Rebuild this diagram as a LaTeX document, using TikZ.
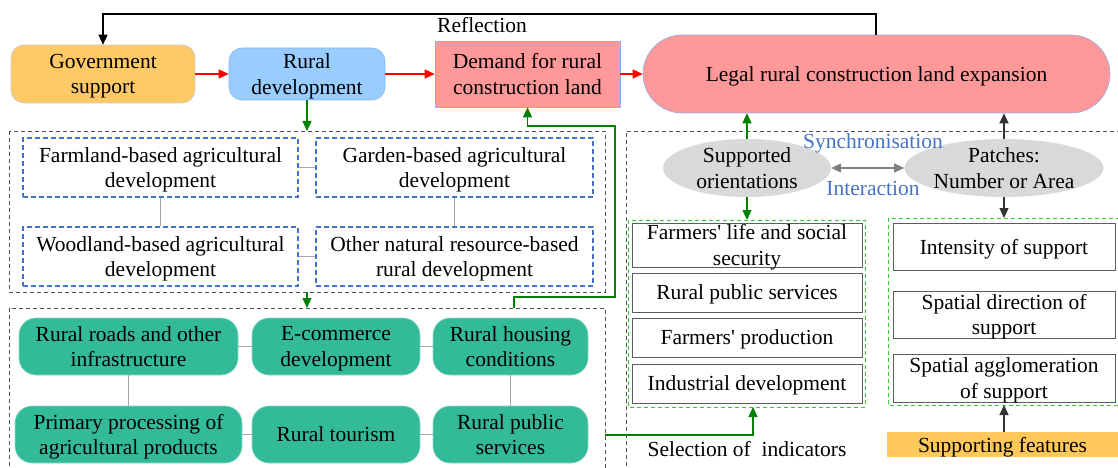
\documentclass[tikz,border=0pt]{standalone}
\usepackage{fontspec}
\setmainfont{Liberation Serif}[Ligatures=TeXOff]
\usetikzlibrary{arrows.meta,shapes.geometric}

\definecolor{govfill}{HTML}{FFCA66}
\definecolor{devfill}{HTML}{99CCFF}
\definecolor{devline}{HTML}{80B8F0}
\definecolor{pinkfill}{HTML}{FF9999}
\definecolor{pinkline}{HTML}{8FB0F0}
\definecolor{tealfill}{HTML}{33BB99}
\definecolor{tealline}{HTML}{8AD8C4}
\definecolor{ovalfill}{HTML}{D9D9D9}
\definecolor{bluedash}{HTML}{4472C4}
\definecolor{greendash}{HTML}{33CC33}
\definecolor{arrowgreen}{HTML}{008000}
\definecolor{linkgray}{HTML}{A6A6A6}
\definecolor{darkline}{HTML}{333333}
\definecolor{featfill}{HTML}{FFC85A}

\tikzset{
  lbl/.style={font=\fontsize{21.5}{25.5}\selectfont, align=center, inner sep=0pt, text depth=0pt},
  tip/.style={-{Triangle[length=10pt,width=9pt]}},
  roundbox/.style={lbl, rounded corners=13pt, line width=0.6pt},
  bluebox/.style={lbl, draw=bluedash, dash pattern=on 5pt off 3pt, line width=1.3pt},
  tealbox/.style={lbl, fill=tealfill, draw=tealline, rounded corners=17pt, line width=0.6pt},
  indbox/.style={lbl, draw=darkline!80, line width=0.9pt},
  oval/.style={lbl, ellipse, fill=ovalfill, draw=none},
  outerdash/.style={draw=darkline!85, dash pattern=on 4pt off 3pt, line width=1pt},
  greenframe/.style={draw=greendash, dash pattern=on 4pt off 3pt, line width=1pt},
  link/.style={draw=linkgray, line width=1.6pt},
  redarrow/.style={tip, draw=red, line width=1.2pt},
  greenarrow/.style={tip, draw=arrowgreen, line width=1.3pt},
  darkarrow/.style={tip, draw=darkline, line width=1.3pt},
}

\begin{document}
\begin{tikzpicture}[x=1pt,y=-1pt]
\useasboundingbox (0,0) rectangle (1118,468);

% dashed group frames
\draw[outerdash] (9,131) rectangle (605,292);
\draw[outerdash] (9,480) |- (605,308) -- (605,480);
\draw[outerdash] (626,480) |- (1125,131);
\draw[greenframe] (628,220) rectangle (865,407);
\draw[greenframe] (888,218) rectangle (1125,405);

% top row
\node[roundbox, fill=govfill, draw=linkgray!60, minimum width=184pt, minimum height=58pt] (gov) at (103,74) {Government\\support};
\node[roundbox, fill=devfill, draw=devline, minimum width=156pt, minimum height=52pt] (rdev) at (307,74) {Rural\\development};
\node[lbl, fill=pinkfill, draw=pinkline, line width=0.6pt, minimum width=185pt, minimum height=66pt] (demand) at (527.5,74) {Demand for rural\\construction land};
\node[lbl, fill=pinkfill, draw=pinkline, line width=0.6pt, rounded corners=39pt, minimum width=467pt, minimum height=78pt] (legal) at (876.5,74) {Legal rural construction land expansion};

\draw[redarrow] (gov.east) -- (rdev.west);
\draw[redarrow] (rdev.east) -- (demand.west);
\draw[redarrow] (demand.east) -- (legal.west);

% feedback loop
\coordinate (rtop) at (876,14);
\draw[tip, draw=black, line width=1.3pt] (legal.north -| rtop) -- (rtop) -| (gov.north);
\node[lbl] (refl) at (482,25) {Reflection};

% resource-based development
\node[bluebox, minimum width=275pt, minimum height=59pt] (farm) at (160.5,167.5) {Farmland-based agricultural\\development};
\node[bluebox, minimum width=277pt, minimum height=59pt] (garden) at (454.5,167.5) {Garden-based agricultural\\development};
\node[bluebox, minimum width=275pt, minimum height=59pt] (wood) at (160.5,256.5) {Woodland-based agricultural\\development};
\node[bluebox, minimum width=277pt, minimum height=59pt] (other) at (454.5,256.5) {Other natural resource-based\\rural development};
\draw[link] (farm.east) -- (garden.west);
\draw[link] (wood.east) -- (other.west);
\draw[link] (farm.south) -- (wood.north);
\draw[link] (garden.south) -- (other.north);

\coordinate (g1top) at (307,131);
\coordinate (g1bot) at (307,292);
\coordinate (g2top) at (307,308);
\draw[greenarrow] (rdev.south) -- (g1top);
\draw[greenarrow] (g1bot) -- (g2top);

% rural construction types
\node[tealbox, minimum width=219pt, minimum height=57pt] (roads) at (128.5,346.5) {Rural roads and other\\infrastructure};
\node[tealbox, minimum width=168pt, minimum height=57pt] (ecom) at (336,346.5) {E-commerce\\development};
\node[tealbox, minimum width=155pt, minimum height=57pt] (housing) at (510.5,346.5) {Rural housing\\conditions};
\node[tealbox, minimum width=227pt, minimum height=57pt] (primary) at (128.5,434.5) {Primary processing of\\agricultural products};
\node[tealbox, minimum width=168pt, minimum height=57pt] (tourism) at (336,434.5) {Rural tourism};
\node[tealbox, minimum width=155pt, minimum height=57pt] (public) at (510.5,434.5) {Rural public\\services};
\draw[link] (roads.east) -- (ecom.west);
\draw[link] (ecom.east) -- (housing.west);
\draw[link] (primary.east) -- (tourism.west);
\draw[link] (tourism.east) -- (public.west);
\draw[link] (roads.south) -- (primary.north);
\draw[link] (housing.south) -- (public.north);

% loop back to the demand
\coordinate (fb0) at (514,308);
\coordinate (fb1) at (615,297);
\coordinate (fb2) at (615,126);
\draw[greenarrow] (fb0) |- (fb1) -- (fb2) -| (demand.south);

% orientation and patches
\node[oval, minimum width=168pt, minimum height=58pt] (orient) at (747,168) {Supported\\orientations};
\node[oval, minimum width=192pt, minimum height=58pt] (patch) at (1004,168) {Patches:\\Number or Area};
\draw[greenarrow] (orient.north) -- (orient.north |- legal.south);
\draw[darkarrow] (patch.north) -- (patch.north |- legal.south);
\draw[{Triangle[length=10pt,width=9pt]}-{Triangle[length=10pt,width=9pt]}, draw=gray, line width=1.3pt] (orient.east) -- (patch.west);
\node[lbl, text=bluedash] (sync) at (873,141) {Synchronisation};
\node[lbl, text=bluedash] (inter) at (873,188) {Interaction};

% indicators
\node[indbox, minimum width=230pt, minimum height=44pt] (life) at (747,245) {Farmers' life and social\\security};
\node[indbox, minimum width=230pt, minimum height=39pt] (pubs) at (747,292.5) {Rural public services};
\node[indbox, minimum width=230pt, minimum height=39pt] (prod) at (747,337.5) {Farmers' production};
\node[indbox, minimum width=230pt, minimum height=39pt] (indus) at (747,383.5) {Industrial development};
\node[lbl] (sel) at (747,449) {Selection of\ \ indicators};
\coordinate (indtop) at (747,220);
\coordinate (indbot) at (753,407);
\coordinate (pubexit) at (605,435);
\draw[greenarrow] (orient.south) -- (indtop);
\draw[greenarrow] (pubexit) -| (indbot);

% supporting features
\node[indbox, minimum width=222pt, minimum height=47pt] (inten) at (1004,246.5) {Intensity of support};
\node[indbox, minimum width=222pt, minimum height=47pt] (direc) at (1004,314.5) {Spatial direction of\\support};
\node[indbox, minimum width=222pt, minimum height=48pt] (agglo) at (1004,378) {Spatial agglomeration\\of support};
\node[lbl, fill=featfill, minimum width=231pt, minimum height=25pt] (feat) at (1002.5,444.5) {Supporting features};
\coordinate (suptop) at (1004,218);
\coordinate (supbot) at (1004,405);
\draw[darkarrow] (patch.south) -- (suptop);
\draw[darkarrow] (feat.north -| supbot) -- (supbot);
\end{tikzpicture}
\end{document}
